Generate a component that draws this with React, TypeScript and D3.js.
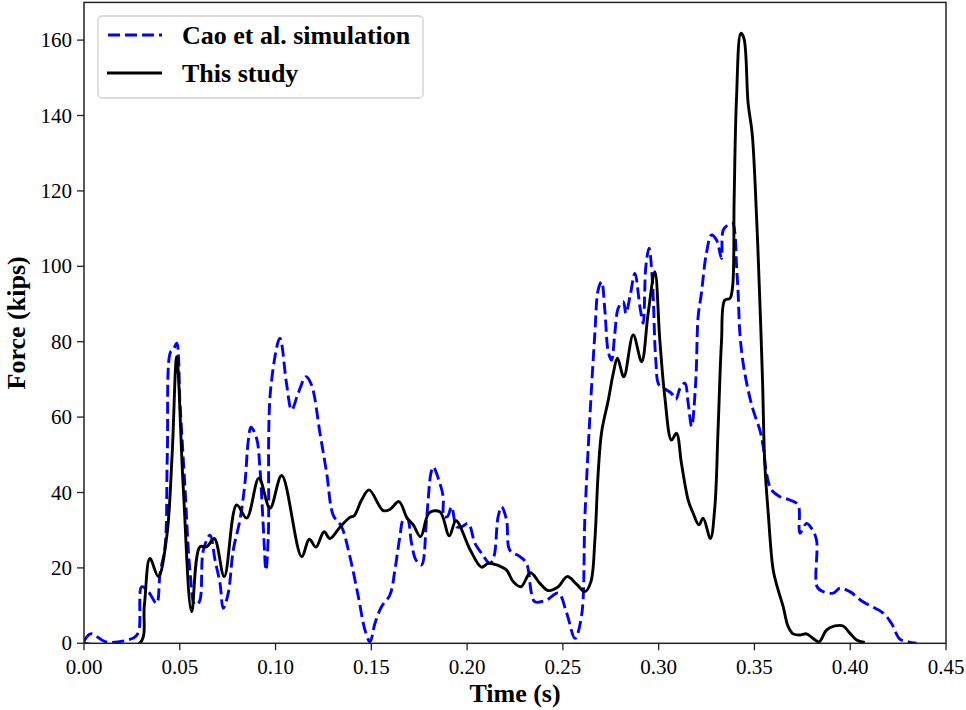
import React from "react";
import * as d3 from "d3";

// ---- Data ----
const studyTime = [0, 0.029, 0.0315, 0.0344, 0.0388, 0.0432, 0.046, 0.0484, 0.0518, 0.0562, 0.0605, 0.064, 0.068, 0.0732, 0.0797, 0.0849, 0.0913, 0.0971, 0.1032, 0.1136, 0.1176, 0.1211, 0.1253, 0.1284, 0.1336, 0.1388, 0.141, 0.1449, 0.1488, 0.1562, 0.1597, 0.1644, 0.1687, 0.1719, 0.1757, 0.1802, 0.1858, 0.1907, 0.1942, 0.2015, 0.2075, 0.211, 0.2154, 0.2206, 0.2241, 0.2281, 0.2331, 0.238, 0.2423, 0.2476, 0.2522, 0.2571, 0.2615, 0.2646, 0.2667, 0.2684, 0.2702, 0.2737, 0.2763, 0.2785, 0.2818, 0.2867, 0.2911, 0.2945, 0.298, 0.3006, 0.3032, 0.3067, 0.3093, 0.3119, 0.3154, 0.318, 0.321, 0.3232, 0.327, 0.3293, 0.331, 0.3328, 0.3345, 0.3372, 0.3386, 0.3394, 0.3406, 0.3429, 0.3445, 0.3467, 0.3488, 0.3511, 0.3528, 0.3542, 0.3554, 0.3572, 0.3598, 0.3624, 0.365, 0.3676, 0.3702, 0.3737, 0.3772, 0.3806, 0.3838, 0.3876, 0.392, 0.3963, 0.3998, 0.4033, 0.4076];
const studyForce = [0, 0, 10, 22.5, 17.7, 28.3, 50, 76, 41.5, 8.4, 25.6, 25.6, 27.8, 17.7, 36.7, 33.2, 43.8, 35.8, 44.5, 23, 27.6, 25.5, 29.6, 27.8, 30.8, 33.4, 33.8, 38, 40.7, 35.2, 35.5, 37.6, 33.2, 31.4, 28.3, 34.6, 34.9, 28.5, 32.5, 24.9, 20.2, 21.2, 20.8, 19.4, 16.3, 15, 18.7, 15.9, 14, 15, 17.7, 15.7, 13.7, 16.3, 27.4, 45, 56, 64.5, 71.6, 75.6, 70.7, 81.8, 74.7, 87.5, 98.6, 80.5, 65.4, 53.9, 55.7, 47.7, 38, 34.5, 31.4, 33.2, 27.8, 36, 56.6, 80, 91, 91.5, 94.6, 117.6, 144, 161.8, 160.5, 143.2, 135.3, 113.2, 91, 70, 47.7, 34.5, 19.4, 14.1, 9.7, 4.4, 2.5, 2.2, 2.5, 1.3, 0.4, 3.5, 4.6, 4.6, 2.7, 0.9, 0.2];

const caoTime = [0, 0.0035, 0.012, 0.026, 0.0285, 0.0301, 0.0336, 0.0379, 0.0397, 0.0423, 0.0435, 0.0452, 0.0466, 0.0484, 0.0501, 0.0527, 0.0553, 0.0579, 0.0602, 0.0623, 0.0658, 0.0684, 0.071, 0.0727, 0.0753, 0.0779, 0.0814, 0.084, 0.0858, 0.0872, 0.0901, 0.0919, 0.0936, 0.095, 0.0962, 0.0974, 0.1023, 0.1057, 0.1084, 0.1118, 0.1159, 0.1188, 0.1232, 0.1267, 0.1301, 0.1345, 0.1388, 0.1432, 0.1467, 0.1493, 0.1519, 0.1553, 0.1597, 0.1623, 0.1649, 0.1666, 0.1687, 0.171, 0.1733, 0.1762, 0.1788, 0.1811, 0.1823, 0.1858, 0.1875, 0.1879, 0.1897, 0.1919, 0.1945, 0.1971, 0.2006, 0.2041, 0.2075, 0.2119, 0.214, 0.2162, 0.218, 0.2206, 0.2223, 0.2276, 0.231, 0.2336, 0.2354, 0.2415, 0.2476, 0.252, 0.2563, 0.2597, 0.2615, 0.2641, 0.2667, 0.2684, 0.2702, 0.2719, 0.2737, 0.2754, 0.2771, 0.2789, 0.2815, 0.2829, 0.285, 0.2876, 0.2902, 0.2919, 0.2933, 0.295, 0.2968, 0.2985, 0.3002, 0.3041, 0.3067, 0.309, 0.3111, 0.3137, 0.3154, 0.3172, 0.3194, 0.3206, 0.3223, 0.3249, 0.3276, 0.3302, 0.3328, 0.3337, 0.3363, 0.3386, 0.3398, 0.3406, 0.3415, 0.3424, 0.3441, 0.3467, 0.3493, 0.3528, 0.3546, 0.3563, 0.3589, 0.3633, 0.3685, 0.3728, 0.3737, 0.3772, 0.3798, 0.3824, 0.3827, 0.3858, 0.3911, 0.3946, 0.3998, 0.4067, 0.4172, 0.4215, 0.4259, 0.4302, 0.4346];
const caoForce = [0.5, 2.5, 0.3, 1.5, 3, 15, 13.7, 10.6, 18.6, 25.6, 50.4, 77.3, 77.8, 79.6, 63.7, 41.5, 19.4, 10.2, 11, 24.7, 28.7, 22.1, 15.9, 9.3, 13.3, 24.7, 32.7, 42.4, 53.9, 57.3, 54.4, 46, 30.9, 19.4, 28.3, 67.2, 80.9, 69, 61.9, 66.3, 70.7, 68.5, 55.7, 45.1, 34, 30.9, 23, 12.4, 3.5, 0.4, 5.3, 9.7, 12.8, 19.4, 28.3, 32.7, 33.2, 26.5, 22.1, 20.8, 32.7, 45.1, 46.8, 42.4, 38.9, 33.6, 33.6, 36.2, 30.9, 30.9, 31.8, 26.5, 23.9, 21.2, 23, 33.6, 36.2, 32.7, 24.7, 23, 21.2, 13.3, 11, 11.5, 13.3, 8, 1.3, 7.1, 33.6, 60.1, 82.2, 93.7, 95.9, 88.4, 77.3, 75.1, 82.2, 88.9, 90.6, 87.5, 91.9, 98.1, 89.3, 84.9, 99.9, 104.8, 95.5, 75.1, 68.5, 67.2, 66.3, 64.7, 67.6, 69, 63.7, 57.5, 69.8, 86.6, 92.8, 103.4, 108.3, 107, 102.1, 109.6, 111, 111.4, 108.8, 100.8, 92.8, 82.2, 74.3, 67.2, 61.9, 56.6, 52.1, 45.1, 40.7, 38.9, 38, 36.7, 29.2, 31.8, 30.5, 27.4, 15, 13.7, 13.3, 14.6, 13.7, 11, 8, 5.3, 1.1, 0.4, 0];

const xTicks = [0, 0.05, 0.1, 0.15, 0.2, 0.25, 0.3, 0.35, 0.4, 0.45];
const yTicks = [0, 20, 40, 60, 80, 100, 120, 140, 160];
const seriesNames = ["Cao et al. simulation", "This study"];
const xLabel = "Time (s)";
const yLabel = "Force (kips)";

const W = 966;
const H = 710;
const left = 84;
const right = 946;
const top = 2.4;
const bottom = 643.3;
const FONT = "'Liberation Serif', 'Times New Roman', serif";

export default function App() {
  const x = d3.scaleLinear().domain([0, 0.45]).range([left, right]);
  const y = d3.scaleLinear().domain([0, 170]).range([bottom, top]);

  const study = studyTime.map((t, i) => [t, studyForce[i]] as [number, number]);
  const cao = caoTime.map((t, i) => [t, caoForce[i]] as [number, number]);

  const lineSmooth = d3
    .line<[number, number]>()
    .x((d) => x(d[0]))
    .y((d) => y(d[1]))
    .curve(d3.curveCatmullRom.alpha(0.5));

  return (
    <div style={{ position: "absolute", left: 0, top: 0 }}>
      <svg width={W} height={H} style={{ display: "block", background: "#fff" }} fontFamily={FONT}>
        <defs>
          <clipPath id="plotclip">
            <rect x={left} y={top} width={right - left} height={bottom - top} />
          </clipPath>
        </defs>
        <rect x={0} y={0} width={W} height={H} fill="#fff" />

        <g clipPath="url(#plotclip)">
          <path
            d={lineSmooth(cao) || ""}
            fill="none"
            stroke="#0000ff"
            strokeWidth={2.9}
            strokeDasharray="12,5"
            strokeLinejoin="round"
          />
          <path
            d={lineSmooth(study) || ""}
            fill="none"
            stroke="#000"
            strokeWidth={2.9}
            strokeLinejoin="round"
          />
        </g>

        {/* spines */}
        <rect x={left} y={top} width={right - left} height={bottom - top} fill="none" stroke="#222" strokeWidth={1.5} />

        {/* x ticks */}
        {xTicks.map((t) => (
          <g key={"x" + t}>
            <line x1={x(t)} x2={x(t)} y1={bottom} y2={bottom + 7} stroke="#222" strokeWidth={1.3} />
            <text x={x(t)} y={bottom + 31} textAnchor="middle" fontSize={21} fill="#000">
              {t.toFixed(2)}
            </text>
          </g>
        ))}
        {/* y ticks */}
        {yTicks.map((v) => (
          <g key={"y" + v}>
            <line x1={left - 7} x2={left} y1={y(v)} y2={y(v)} stroke="#222" strokeWidth={1.3} />
            <text x={left - 12} y={y(v) + 7} textAnchor="end" fontSize={21} fill="#000">
              {v}
            </text>
          </g>
        ))}

        <text x={(left + right) / 2} y={702} textAnchor="middle" fontSize={26} fontWeight="bold" fill="#000">
          {xLabel}
        </text>
        <text
          transform={`translate(25, ${(top + bottom) / 2}) rotate(-90)`}
          textAnchor="middle"
          fontSize={26}
          fontWeight="bold"
          fill="#000"
        >
          {yLabel}
        </text>

        {/* legend */}
        <g>
          <rect x={98} y={16} width={325} height={82} rx={4} fill="#fff" fillOpacity={0.8} stroke="#d0d0d0" strokeWidth={1.3} />
          <line x1={108} x2={162} y1={35} y2={35} stroke="#0000ff" strokeWidth={2.9} strokeDasharray="12,5" />
          <text x={182} y={44} fontSize={26} fontWeight="bold" fill="#000">
            {seriesNames[0]}
          </text>
          <line x1={107} x2={162} y1={73} y2={73} stroke="#000" strokeWidth={2.9} />
          <text x={182} y={82} fontSize={26} fontWeight="bold" fill="#000">
            {seriesNames[1]}
          </text>
        </g>
      </svg>
    </div>
  );
}
